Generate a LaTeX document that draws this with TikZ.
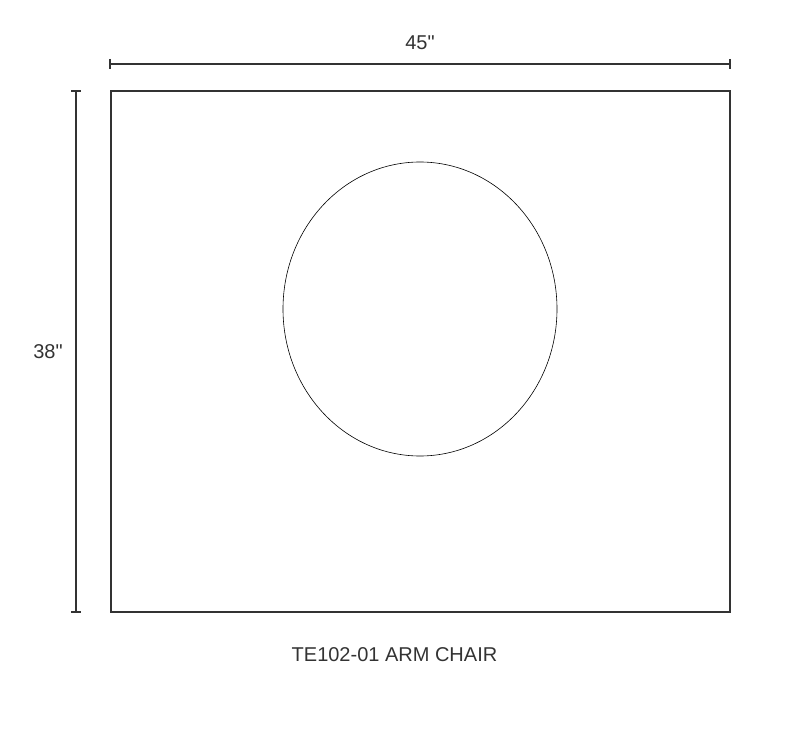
\documentclass[tikz,border=0pt]{standalone}
\usepackage{fontspec}
\newfontfamily\drawfont{Liberation Sans}
\definecolor{ink}{HTML}{333333}
\begin{document}
\begin{tikzpicture}[x=1pt,y=-1pt,
  frame/.style={draw=ink,line width=2.2pt},
  dimline/.style={draw=ink,line width=1.1pt},
  label/.style={text=ink,font=\drawfont\fontsize{20}{23}\selectfont,inner sep=0pt},
  hole/.style={draw=black,line width=0.6pt}]
\useasboundingbox (0,0) rectangle (790,743);
% seat outline
\draw[frame] (111,91) rectangle (730,612);
\draw[hole] (420,309) ellipse [x radius=137, y radius=147];
% horizontal dimension
\coordinate (hl) at (110,64);
\coordinate (hr) at (730,64);
\draw[dimline] (hl) -- (hr);
\draw[dimline] (110,59) -- (110,69);
\draw[dimline] (730,59) -- (730,69);
\node[label] (w) at (420,43) {45"};
% vertical dimension
\coordinate (vt) at (76,91);
\coordinate (vb) at (76,612);
\draw[dimline] (vt) -- (vb);
\draw[dimline] (71,91) -- (81,91);
\draw[dimline] (71,612) -- (81,612);
\node[label] (h) at (48,352) {38"};
% caption
\node[label] (cap) at (394.5,655) {TE102-01 ARM CHAIR};
\end{tikzpicture}
\end{document}
